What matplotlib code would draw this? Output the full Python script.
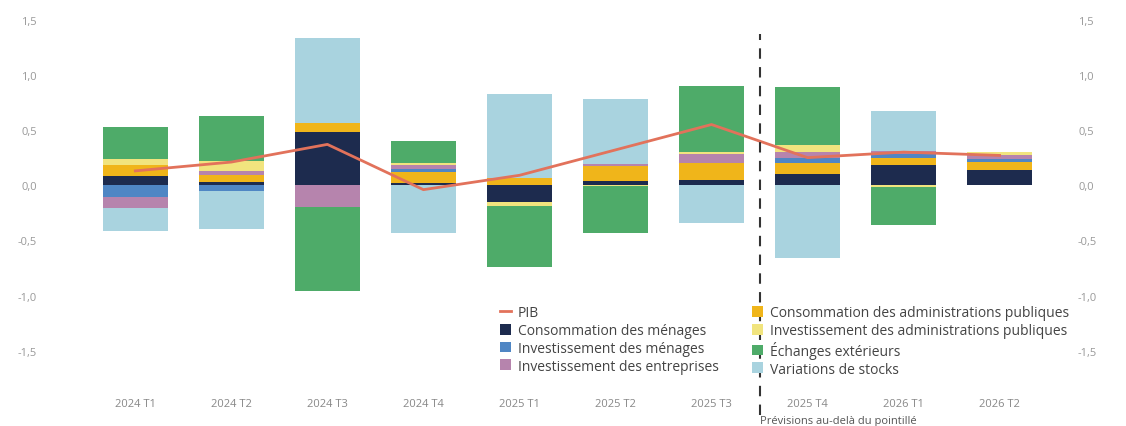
import numpy as np
import matplotlib
matplotlib.use("Agg")
import matplotlib.pyplot as plt
from matplotlib.patches import Patch
from matplotlib.lines import Line2D

plt.rcParams['font.family'] = ['Open Sans', 'DejaVu Sans']

trimestres = ['2024 T1', '2024 T2', '2024 T3', '2024 T4', '2025 T1',
              '2025 T2', '2025 T3', '2025 T4', '2026 T1', '2026 T2']

# contributions a la croissance du PIB (points)
conso_menages = [0.08, 0.03, 0.48, 0.02, -0.15, 0.04, 0.05, 0.10, 0.18, 0.14]
conso_apu = [0.10, 0.06, 0.08, 0.10, 0.07, 0.13, 0.15, 0.10, 0.07, 0.07]
invest_menages = [-0.11, -0.05, 0.00, 0.03, 0.00, 0.00, 0.00, 0.05, 0.03, 0.03]
invest_entreprises = [-0.10, 0.04, -0.20, 0.03, 0.00, 0.02, 0.08, 0.05, 0.03, 0.03]
invest_apu = [0.06, 0.09, 0.00, 0.02, -0.04, -0.01, 0.02, 0.06, -0.02, 0.03]
echanges = [0.29, 0.41, -0.76, 0.20, -0.55, -0.42, 0.60, 0.53, -0.34, 0.00]
stocks = [-0.20, -0.35, 0.77, -0.43, 0.76, 0.59, -0.34, -0.66, 0.36, 0.00]
pib = [0.13, 0.21, 0.37, -0.04, 0.09, 0.32, 0.55, 0.25, 0.30, 0.27]

series = [
    ('Consommation des ménages', conso_menages, '#1d2b4e'),
    ('Consommation des administrations publiques', conso_apu, '#f0b51a'),
    ('Investissement des ménages', invest_menages, '#4f86c4'),
    ('Investissement des entreprises', invest_entreprises, '#b684ad'),
    ('Investissement des administrations publiques', invest_apu, '#f1e47e'),
    ('Échanges extérieurs', echanges, '#4eab69'),
    ('Variations de stocks', stocks, '#a9d3df'),
]

fig = plt.figure(figsize=(11.26, 4.27), dpi=100)
ax = fig.add_axes([0.04, 0.0726, 0.91, 0.892])

x = np.arange(len(trimestres))
pos = np.zeros(len(x))
neg = np.zeros(len(x))
for nom, vals, col in series:
    v = np.array(vals)
    base = np.where(v >= 0, pos, neg)
    ax.bar(x, v, 0.68, bottom=base, color=col, linewidth=0, zorder=2)
    pos += np.where(v >= 0, v, 0)
    neg += np.where(v < 0, v, 0)

ax.plot(x, pib, color='#e2725b', lw=2, zorder=3)

# separation previsions
ax.plot([6.5, 6.5], [-2.08, 1.37], color='#333333', lw=1.5, ls=(0, (5, 4)),
        clip_on=False, zorder=4)
ax.text(6.5, -2.13, 'Prévisions au-delà du pointillé', fontsize=8,
        color='#555555', ha='left', va='center', clip_on=False)

ax.set_xlim(-0.94, 9.73)
ax.set_ylim(-1.9, 1.55)
ax.set_yticks([-1.5, -1.0, -0.5, 0.0, 0.5, 1.0, 1.5])
ax.set_yticklabels(['-1,5', '-1,0', '-0,5', '0,0', '0,5', '1,0', '1,5'])
ax.set_xticks(x)
ax.set_xticklabels(trimestres)
ax.tick_params(axis='y', length=0, labelsize=8, labelcolor='#999999',
               labelright=True, pad=6)
ax.tick_params(axis='x', length=0, labelsize=8, labelcolor='#888888', pad=2)
for s in ax.spines.values():
    s.set_visible(False)

handles = [Line2D([0], [0], color='#e2725b', lw=2)]
labels = ['PIB']
for nom, vals, col in series:
    handles.append(Patch(facecolor=col, edgecolor='none'))
    labels.append(nom)
# ordre du cadre : colonne de gauche puis colonne de droite
order = [0, 1, 3, 4, 2, 5, 6, 7]
leg = fig.legend([handles[i] for i in order], [labels[i] for i in order],
                 ncol=2, loc='upper left', bbox_to_anchor=(0.433, 0.312),
                 frameon=False, fontsize=10, handlelength=0.8,
                 handleheight=0.8, handletextpad=0.5, columnspacing=2.4,
                 labelspacing=0.2, labelcolor='#444444')

fig.savefig('out.png', dpi=100)
